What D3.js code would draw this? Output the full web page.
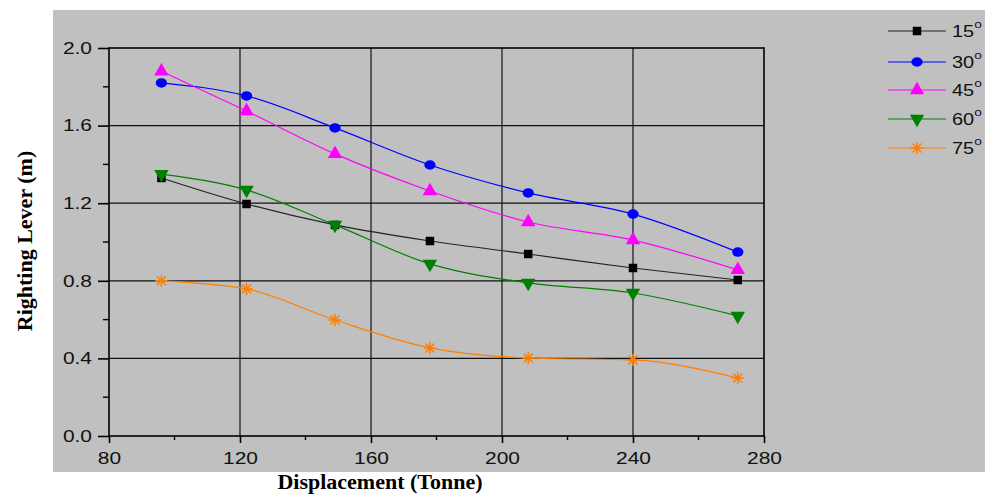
<!DOCTYPE html>
<html>
<head>
<meta charset="utf-8">
<script src="https://cdn.jsdelivr.net/npm/d3@7/dist/d3.min.js"></script>
<style>
  html, body { margin: 0; padding: 0; background: #fff; }
  svg { display: block; }
</style>
</head>
<body>
<svg id="chart" width="985" height="500"></svg>
<script>
// Displacement (Tonne) at which each loading case was evaluated
const displacement = [96, 122, 149, 178, 208, 240, 272];

// Righting lever (m) per heel angle
const heel15 = [1.33, 1.196, 1.088, 1.005, 0.938, 0.866, 0.804];
const heel30 = [1.82, 1.753, 1.588, 1.397, 1.253, 1.144, 0.948];
const heel45 = [1.88, 1.675, 1.454, 1.263, 1.103, 1.01, 0.856];
const heel60 = [1.35, 1.268, 1.088, 0.887, 0.789, 0.737, 0.619];
const heel75 = [0.80, 0.758, 0.598, 0.454, 0.402, 0.392, 0.299];

const seriesNames = ["15", "30", "45", "60", "75"];
const xTicks = [80, 120, 160, 200, 240, 280];
const yTicks = [0.0, 0.4, 0.8, 1.2, 1.6, 2.0];

// eight-armed star marker
const symbolStar8 = {
  draw(context, size) {
    const r = Math.sqrt(size) * 0.6;
    for (let k = 0; k < 4; k++) {
      const a = k * Math.PI / 4;
      const dx = r * Math.cos(a), dy = r * Math.sin(a);
      context.moveTo(-dx, -dy);
      context.lineTo(dx, dy);
    }
  }
};

const series = [
  { name: seriesNames[0], values: heel15, color: "#000000", line: "#222222", symbol: d3.symbolSquare, size: 72 },
  { name: seriesNames[1], values: heel30, color: "#0000ff", line: "#0000ff", symbol: d3.symbolCircle, size: 70 },
  { name: seriesNames[2], values: heel45, color: "#ff00ff", line: "#ff00ff", symbol: d3.symbolTriangle, size: 90 },
  { name: seriesNames[3], values: heel60, color: "#008000", line: "#008000", symbol: d3.symbolTriangle, size: 90, flip: true },
  { name: seriesNames[4], values: heel75, color: "#ff8000", line: "#ff8000", symbol: symbolStar8, size: 110 }
];

// labels are set in a slightly wide face
const stretch = 1.27;
const sansFont = "Liberation Sans, Arial, sans-serif";
const serifFont = "Liberation Serif, Times New Roman, serif";

const svg = d3.select("#chart");

// gray page panel
svg.append("rect").attr("x", 53).attr("y", 10).attr("width", 932).attr("height", 462).attr("fill", "#c0c0c0");

const plotL = 109, plotR = 764, plotT = 48, plotB = 436;
const x = d3.scaleLinear().domain([80, 280]).range([plotL, plotR]);
const y = d3.scaleLinear().domain([0, 2]).range([plotB, plotT]);

const g = svg.append("g");

// grid lines
g.append("g").selectAll("line").data(xTicks.slice(1, -1)).join("line")
  .attr("x1", d => x(d)).attr("x2", d => x(d)).attr("y1", plotT).attr("y2", plotB)
  .attr("stroke", "#111").attr("stroke-width", 1.2);
g.append("g").selectAll("line").data(yTicks.slice(1, -1)).join("line")
  .attr("y1", d => y(d)).attr("y2", d => y(d)).attr("x1", plotL).attr("x2", plotR)
  .attr("stroke", "#111").attr("stroke-width", 1.2);

// frame
g.append("rect").attr("x", plotL).attr("y", plotT).attr("width", plotR - plotL).attr("height", plotB - plotT)
  .attr("fill", "none").attr("stroke", "#000").attr("stroke-width", 1.6);

// axes
const xAxis = d3.axisBottom(x).tickValues(xTicks).tickFormat(d3.format("d")).tickSize(7).tickPadding(9);
const yAxis = d3.axisLeft(y).tickValues(yTicks).tickFormat(d3.format(".1f")).tickSize(11);

const xg = g.append("g").attr("transform", `translate(0,${plotB})`).call(xAxis);
const yg = g.append("g").attr("transform", `translate(${plotL},0)`).call(yAxis);
[xg, yg].forEach(a => {
  a.select(".domain").remove();
  a.selectAll(".tick line").attr("stroke", "#000").attr("stroke-width", 1.6);
  a.selectAll(".tick text").attr("fill", "#111").style("font-family", sansFont).style("font-size", "16.5px");
});
xg.selectAll(".tick text").attr("transform", `scale(${stretch},1)`);
yg.selectAll(".tick text").attr("x", -17 / stretch).attr("transform", `scale(${stretch},1)`);

// minor ticks
const xMinor = d3.range(100, 280, 40);
const yMinor = d3.range(0.2, 2.0, 0.4);
g.append("g").selectAll("line").data(xMinor).join("line")
  .attr("x1", d => x(d)).attr("x2", d => x(d)).attr("y1", plotB).attr("y2", plotB + 4)
  .attr("stroke", "#000").attr("stroke-width", 1.4);
g.append("g").selectAll("line").data(yMinor).join("line")
  .attr("y1", d => y(d)).attr("y2", d => y(d)).attr("x1", plotL - 6).attr("x2", plotL)
  .attr("stroke", "#000").attr("stroke-width", 1.4);

// series curves and markers
const line = d3.line().x(d => x(d[0])).y(d => y(d[1])).curve(d3.curveMonotoneX);

function markerAttrs(sel, s) {
  const star = s.symbol === symbolStar8;
  sel.attr("fill", star ? "none" : s.color)
    .attr("stroke", star ? s.color : "none")
    .attr("stroke-width", 1.5);
}
function markerTransform(s, px, py) {
  return `translate(${px},${py}) scale(${s.symbol === d3.symbolCircle ? 1.2 : 1},1)${s.flip ? " rotate(180)" : ""}`;
}

series.forEach(s => {
  const pts = displacement.map((d, i) => [d, s.values[i]]);
  g.append("path").datum(pts).attr("d", line)
    .attr("fill", "none").attr("stroke", s.line).attr("stroke-width", 1.2);
  const sym = d3.symbol().type(s.symbol).size(s.size);
  g.append("g").selectAll("path").data(pts).join("path")
    .attr("d", sym)
    .attr("transform", d => markerTransform(s, x(d[0]), y(d[1])))
    .call(markerAttrs, s);
});

// legend
const legendY = [31, 62, 90, 119, 148];
const lg = svg.append("g");
series.forEach((s, i) => {
  const ly = legendY[i];
  lg.append("line").attr("x1", 888).attr("x2", 946).attr("y1", ly).attr("y2", ly)
    .attr("stroke", s.line).attr("stroke-width", 1.2);
  lg.append("path").attr("d", d3.symbol().type(s.symbol).size(s.size)())
    .attr("transform", markerTransform(s, 917, ly))
    .call(markerAttrs, s);
  const t = lg.append("text").attr("transform", `translate(952,${ly + 6}) scale(${stretch * 0.98},1)`)
    .style("font-family", sansFont).style("font-size", "16px").attr("fill", "#111");
  t.append("tspan").text(s.name);
  t.append("tspan").attr("dy", -9).style("font-size", "11px").text("o");
});

// axis titles
svg.append("text").attr("x", 380).attr("y", 489).attr("text-anchor", "middle")
  .style("font-family", serifFont).style("font-weight", "bold").style("font-size", "22px")
  .text("Displacement (Tonne)");
svg.append("text").attr("transform", "translate(32,241) rotate(-90)").attr("text-anchor", "middle")
  .style("font-family", serifFont).style("font-weight", "bold").style("font-size", "22px")
  .text("Righting Lever (m)");
</script>
</body>
</html>
